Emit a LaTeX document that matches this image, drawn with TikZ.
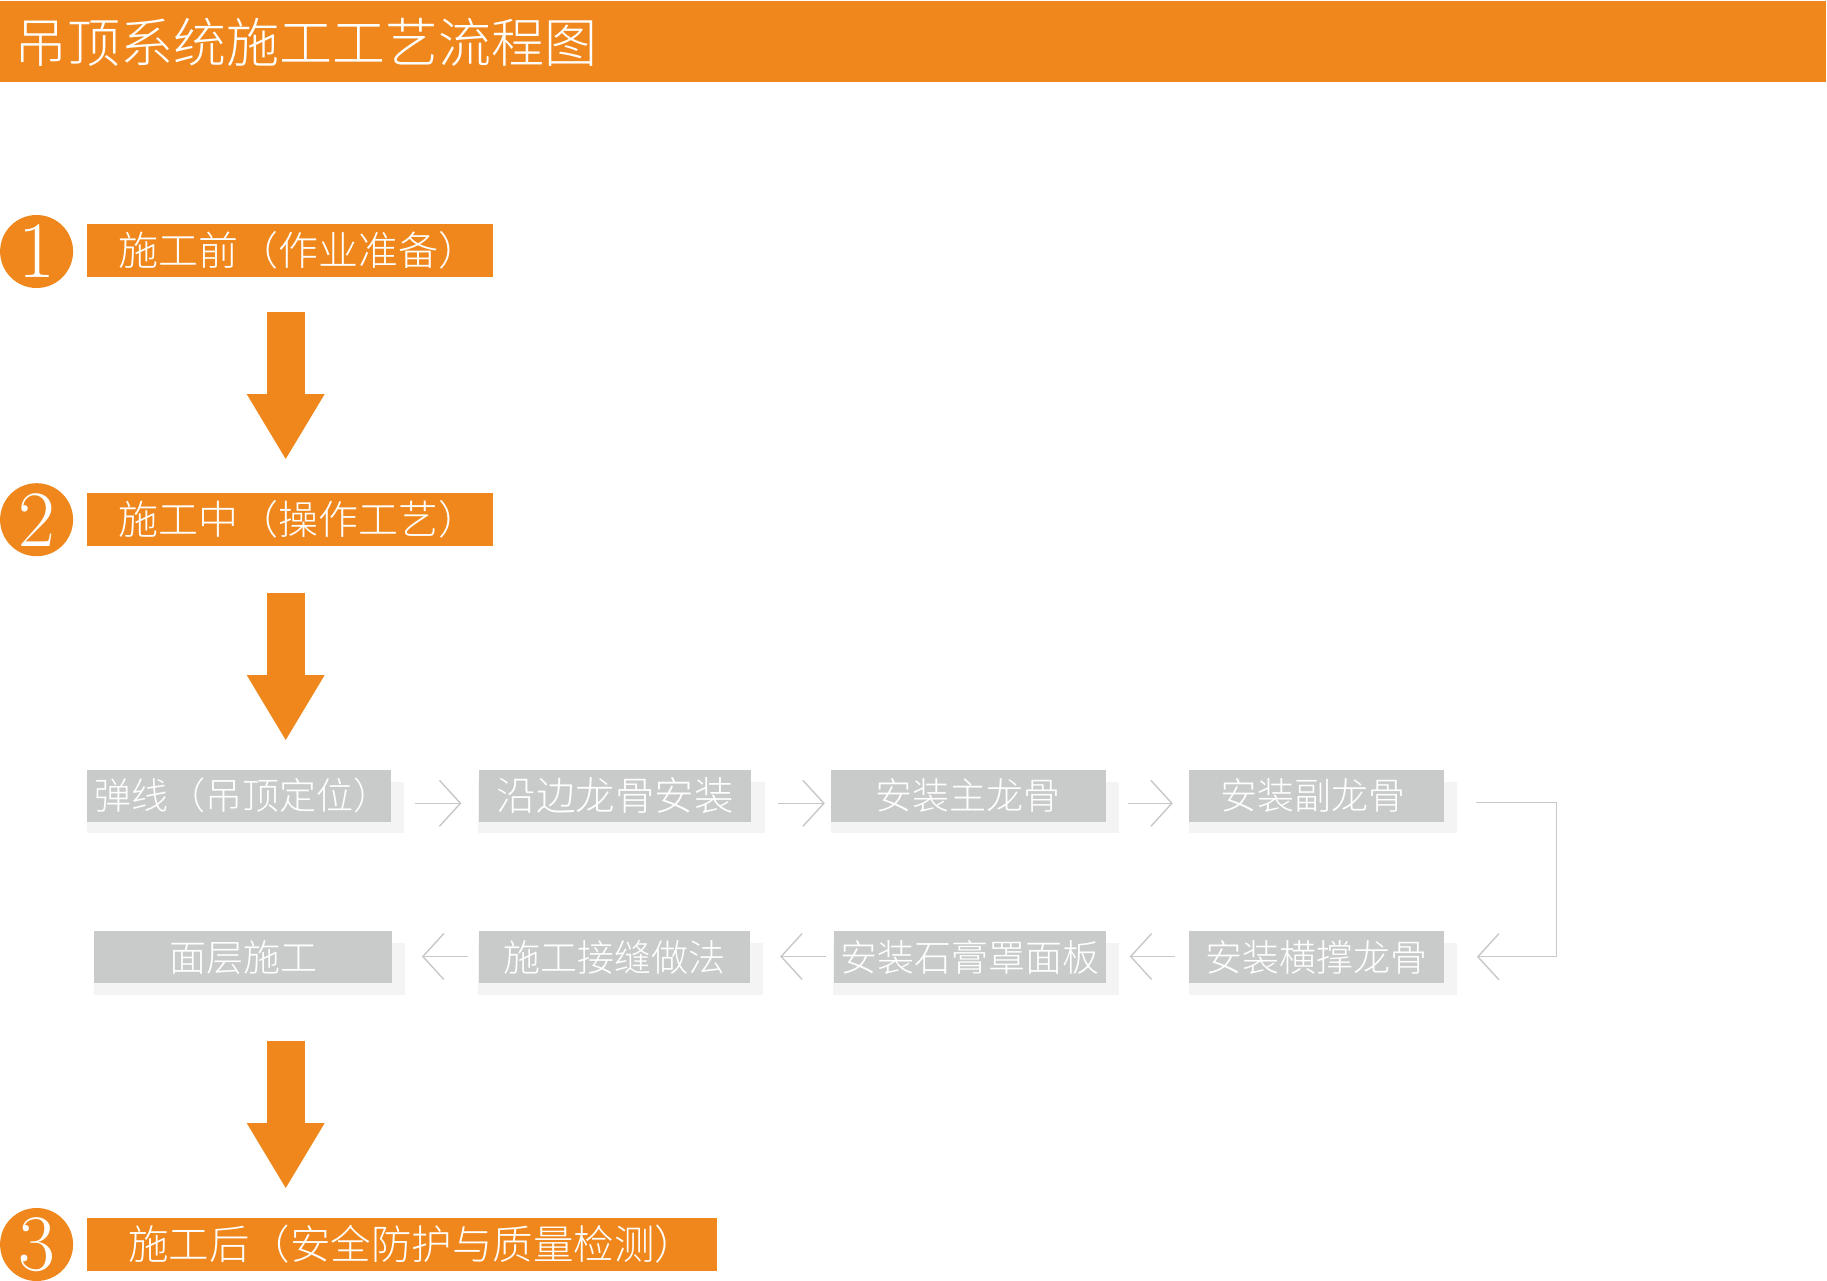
\documentclass[tikz,border=0pt]{standalone}
\usepackage{fontspec}
\newfontfamily\cjk{Noto Sans CJK SC}[UprightFont=* Light]
\usetikzlibrary{arrows.meta,backgrounds,calc}
\definecolor{org}{RGB}{239,135,28}
\definecolor{boxgray}{RGB}{201,202,202}
\definecolor{shgray}{RGB}{244,244,244}
\definecolor{linegray}{RGB}{200,200,200}
\begin{document}
\begin{tikzpicture}[x=1pt,y=-1pt,
  obox/.style={fill=org, text=white, inner sep=0pt, font=\cjk\fontsize{40}{40}\selectfont, minimum height=53pt},
  num/.style={circle, fill=org, text=white, inner sep=0pt, minimum size=73pt, font=\fontsize{80}{80}\selectfont},
  gbox/.style={fill=boxgray, text=white, inner sep=0pt, font=\cjk\fontsize{37}{37}\selectfont, minimum height=51.5pt},
  flow/.style={draw=linegray, line width=1.4pt, -{Straight Barb[length=21pt,width=46pt]}},
  bigarrow/.style={draw=org, line width=38pt, -{Triangle[length=66pt,width=73pt]}},
]
\useasboundingbox (0,0) rectangle (1827,1281);
% header
\node[fill=org, inner sep=0pt, minimum width=1826pt, minimum height=81pt, anchor=north west] (bar) at (0,1) {};
\node[anchor=west, text=white, inner sep=0pt, font=\cjk\fontsize{53}{53}\selectfont] (title) at (14,42) {吊顶系统施工工艺流程图};
% stages
\node[num] (c1) at (36.6,251.5) {1};
\node[num] (c2) at (36.6,519.7) {2};
\node[num] (c3) at (36.6,1244.5) {3};
\node[obox, minimum width=405.4pt] (o1) at (290,250.7) {\hspace*{16pt}施工前（作业准备）};
\node[obox, minimum width=405.4pt] (o2) at (290,519.7) {\hspace*{16pt}施工中（操作工艺）};
\node[obox, minimum width=629.3pt, font=\cjk\fontsize{40.5}{40.5}\selectfont] (o3) at (402,1244.2) {\hspace*{19pt}施工后（安全防护与质量检测）};
% big arrows
\coordinate (a1s) at (285.7,311.7); \coordinate (a1e) at (285.7,460);
\coordinate (a2s) at (285.7,593);   \coordinate (a2e) at (285.7,741);
\coordinate (a3s) at (285.7,1041);  \coordinate (a3e) at (285.7,1189);
\draw[bigarrow] (a1s) -- (a1e);
\draw[bigarrow] (a2s) -- (a2e);
\draw[bigarrow] (a3s) -- (a3e);
% process boxes
\node[gbox, minimum width=303.7pt] (g1) at (239.2,795.9) {\hspace*{6pt}弹线（吊顶定位）};
\node[gbox, minimum width=272.8pt, font=\cjk\fontsize{39.5}{39.5}\selectfont] (g2) at (615,795.9) {沿边龙骨安装};
\node[gbox, minimum width=274.5pt] (g3) at (968.3,795.9) {安装主龙骨};
\node[gbox, minimum width=255pt] (g4) at (1316.5,795.9) {安装副龙骨\hspace*{8pt}};
\node[gbox, minimum width=297.4pt] (h1) at (243,957.2) {面层施工};
\node[gbox, minimum width=271.4pt] (h2) at (614.3,957.2) {施工接缝做法};
\node[gbox, minimum width=272pt] (h3) at (969.5,957.2) {安装石膏罩面板};
\node[gbox, minimum width=255pt] (h4) at (1316.5,957.2) {安装横撑龙骨};
\begin{scope}[on background layer]
\fill[white] (0,0) rectangle (1827,1281);
\foreach \n in {g1,g2,g3,g4,h1,h2,h3,h4}
  \fill[shgray] ($(\n.north west)+(0,12)$) rectangle ($(\n.south east)+(13,11.6)$);
\end{scope}
% flow connectors
\draw[flow] ([xshift=24pt,yshift=-7.4pt]g1.east) -- ([xshift=-17pt,yshift=-7.4pt]g2.west);
\draw[flow] ([xshift=26.6pt,yshift=-7.4pt]g2.east) -- ([xshift=-6pt,yshift=-7.4pt]g3.west);
\draw[flow] ([xshift=22.5pt,yshift=-7.4pt]g3.east) -- ([xshift=-16pt,yshift=-7.4pt]g4.west);
\draw[flow] ([xshift=32pt,yshift=-6.4pt]g4.east) -- ++(80,0) |- ([xshift=32.7pt,yshift=0.5pt]h4.east);
\draw[flow] ([xshift=-14pt,yshift=0.7pt]h4.west) -- ([xshift=24pt,yshift=0.7pt]h3.east);
\draw[flow] ([xshift=-7.6pt,yshift=0.7pt]h3.west) -- ([xshift=30pt,yshift=0.7pt]h2.east);
\draw[flow] ([xshift=-10.3pt,yshift=0.7pt]h2.west) -- ([xshift=30pt,yshift=0.7pt]h1.east);
\end{tikzpicture}
\end{document}
